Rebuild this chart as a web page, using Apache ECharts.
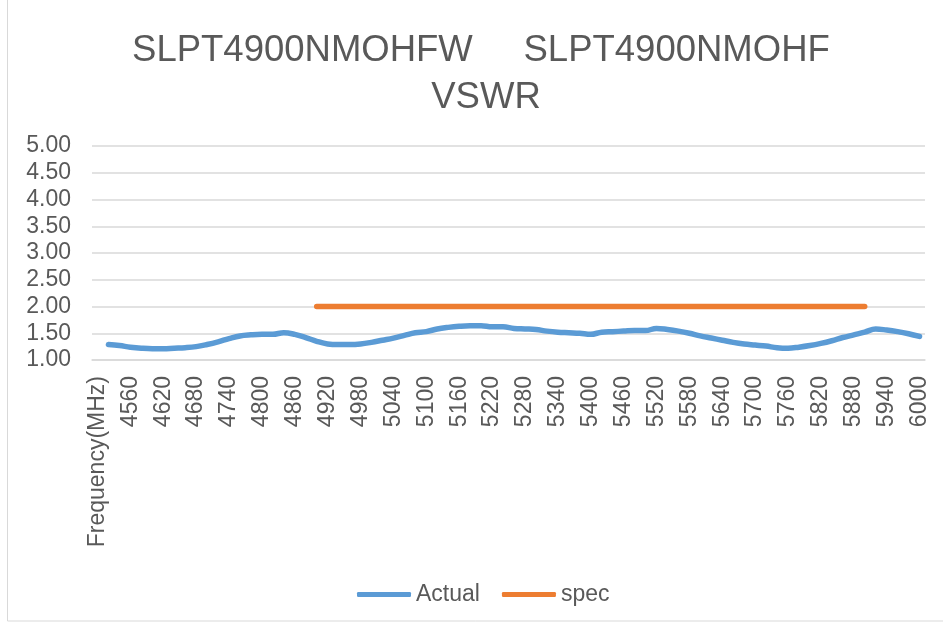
<!DOCTYPE html>
<html>
<head>
<meta charset="utf-8">
<script src="https://cdn.jsdelivr.net/npm/echarts@6/dist/echarts.min.js"></script>
<style>html,body{margin:0;padding:0;background:#fff;}#c{width:943px;height:625px;}</style>
</head>
<body>
<div id="c"></div>
<script>
var titleLines = ['SLPT4900NMOHFW     SLPT4900NMOHF ', 'VSWR'];
var categories = ['Frequency(MHz)',
  '4520','4540','4560','4580','4600','4620','4640','4660','4680','4700',
  '4720','4740','4760','4780','4800','4820','4840','4860','4880','4900',
  '4920','4940','4960','4980','5000','5020','5040','5060','5080','5100',
  '5120','5140','5160','5180','5200','5220','5240','5260','5280','5300',
  '5320','5340','5360','5380','5400','5420','5440','5460','5480','5500',
  '5520','5540','5560','5580','5600','5620','5640','5660','5680','5700',
  '5720','5740','5760','5780','5800','5820','5840','5860','5880','5900',
  '5920','5940','5960','5980','6000'];
var actual = [null,
  1.29,1.27,1.24,1.22,1.21,1.21,1.22,1.23,1.25,1.29,
  1.34,1.40,1.45,1.47,1.48,1.48,1.51,1.48,1.42,1.35,
  1.30,1.29,1.29,1.30,1.33,1.37,1.41,1.46,1.51,1.53,
  1.58,1.61,1.63,1.64,1.64,1.62,1.62,1.59,1.58,1.57,
  1.54,1.52,1.51,1.50,1.48,1.52,1.53,1.54,1.55,1.55,
  1.59,1.57,1.54,1.50,1.45,1.41,1.37,1.33,1.30,1.28,
  1.26,1.23,1.22,1.24,1.27,1.31,1.36,1.42,1.47,1.52,
  1.58,1.56,1.53,1.49,1.44];
var spec = [null,
  null,null,null,null,null,null,null,null,null,null,
  null,null,null,null,null,null,null,null,null,2.00,
  2.00,2.00,2.00,2.00,2.00,2.00,2.00,2.00,2.00,2.00,
  2.00,2.00,2.00,2.00,2.00,2.00,2.00,2.00,2.00,2.00,
  2.00,2.00,2.00,2.00,2.00,2.00,2.00,2.00,2.00,2.00,
  2.00,2.00,2.00,2.00,2.00,2.00,2.00,2.00,2.00,2.00,
  2.00,2.00,2.00,2.00,2.00,2.00,2.00,2.00,2.00,2.00,
  null,null,null,null,null];
var seriesNames = ['Actual', 'spec'];
var yMin = 1, yMax = 5, yStep = 0.5;

var chart = echarts.init(document.getElementById('c'), null, {renderer: 'canvas'});
var font = 'Liberation Sans, Arial, sans-serif';
chart.setOption({
  animation: false,
  backgroundColor: '#ffffff',
  textStyle: {fontFamily: font},
  title: {
    text: titleLines.join('\n'),
    left: 481, top: 22, textAlign: 'center',
    textStyle: {fontSize: 36.5, fontWeight: 'normal', color: '#595959', lineHeight: 47, fontFamily: font}
  },
  graphic: [{
    type: 'rect', silent: true, z: -1,
    shape: {x: 7.5, y: -10, width: 1000, height: 631},
    style: {fill: 'none', stroke: '#d9d9d9', lineWidth: 1}
  }],
  legend: {
    data: seriesNames,
    bottom: 14, left: 352,
    itemWidth: 54, itemHeight: 5, itemGap: 22,
    icon: 'roundRect',
    textStyle: {fontSize: 23, color: '#595959', fontFamily: font}
  },
  grid: {left: 92, right: 18, top: 146, bottom: 265, containLabel: false},
  xAxis: {
    type: 'category', data: categories, boundaryGap: true,
    axisLine: {show: true, lineStyle: {color: '#d9d9d9', width: 1.5}},
    axisTick: {show: false},
    axisLabel: {rotate: 90, interval: 2, margin: 16, fontSize: 23, color: '#595959', fontFamily: font},
    splitLine: {show: false}
  },
  yAxis: {
    type: 'value', min: yMin, max: yMax, interval: yStep,
    axisLine: {show: false}, axisTick: {show: false},
    axisLabel: {margin: 21, fontSize: 23, color: '#595959', fontFamily: font,
      formatter: function (v) { return v.toFixed(2); }},
    splitLine: {lineStyle: {color: '#d9d9d9', width: 1.5}}
  },
  series: [{
    name: seriesNames[0], type: 'line', data: actual, smooth: 0.4,
    showSymbol: false, symbol: 'none',
    lineStyle: {color: '#5B9BD5', width: 5.5, cap: 'round', join: 'round'},
    itemStyle: {color: '#5B9BD5'}
  }, {
    name: seriesNames[1], type: 'line', data: spec, smooth: false,
    showSymbol: false, symbol: 'none',
    lineStyle: {color: '#ED7D31', width: 5.5, cap: 'round'},
    itemStyle: {color: '#ED7D31'}
  }]
});
</script>
</body>
</html>
